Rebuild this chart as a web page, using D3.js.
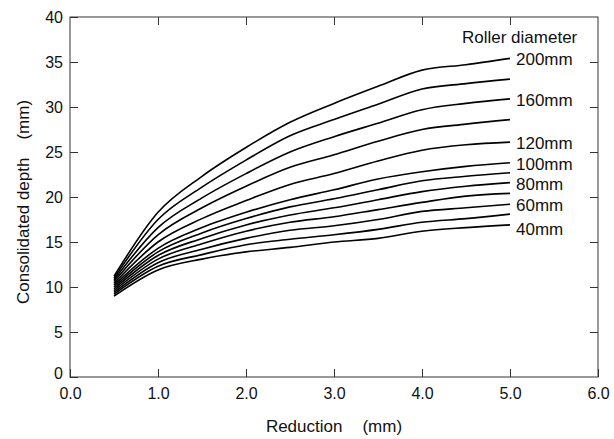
<!doctype html>
<html>
<head>
<script src="https://cdn.jsdelivr.net/npm/d3@7"></script>
<style>
  body { margin: 0; background: #fff; }
  text { font-family: "Liberation Sans", Arial, sans-serif; fill: #111; }
</style>
</head>
<body>
<script>
// reduction (mm)
var reduction = [0.5, 1.0, 1.5, 2.0, 2.5, 3.0, 3.5, 4.0, 4.5, 5.0];

// roller diameters, one curve each (top to bottom)
var diameters = [200, 180, 160, 140, 120, 100, 90, 80, 70, 60, 50, 40];

// consolidated depth (mm) for each diameter
var d200 = [11.2, 18.3, 22.3, 25.5, 28.3, 30.4, 32.3, 34.1, 34.7, 35.4];
var d180 = [11.0, 17.5, 21.1, 24.1, 26.8, 28.6, 30.3, 32.0, 32.6, 33.1];
var d160 = [10.8, 16.6, 19.9, 22.6, 25.0, 26.7, 28.2, 29.7, 30.4, 30.9];
var d140 = [10.6, 15.8, 18.8, 21.2, 23.3, 24.7, 26.2, 27.5, 28.1, 28.6];
var d120 = [10.4, 15.0, 17.6, 19.6, 21.4, 22.6, 24.0, 25.2, 25.8, 26.1];
var d100 = [10.2, 14.3, 16.6, 18.3, 19.7, 20.8, 22.0, 22.8, 23.4, 23.8];
var d90  = [10.0, 13.9, 16.0, 17.6, 18.9, 19.8, 20.8, 21.8, 22.3, 22.7];
var d80  = [9.8, 13.5, 15.4, 16.9, 18.0, 18.8, 19.7, 20.6, 21.2, 21.6];
var d70  = [9.6, 13.1, 14.8, 16.2, 17.2, 17.8, 18.6, 19.4, 20.1, 20.4];
var d60  = [9.4, 12.7, 14.2, 15.4, 16.3, 16.8, 17.5, 18.4, 18.8, 19.2];
var d50  = [9.2, 12.3, 13.6, 14.7, 15.3, 15.8, 16.4, 17.2, 17.6, 18.1];
var d40  = [9.0, 11.9, 13.1, 13.9, 14.4, 15.0, 15.4, 16.2, 16.6, 16.9];

var depths = [d200, d180, d160, d140, d120, d100, d90, d80, d70, d60, d50, d40];
var labelled = [200, 160, 120, 100, 80, 60, 40];

var xTicks = [0, 1, 2, 3, 4, 5, 6];
var yTicks = [0, 5, 10, 15, 20, 25, 30, 35, 40];

var width = 614, height = 439;
var pLeft = 70, pRight = 598, pTop = 17, pBottom = 377;

var x = d3.scaleLinear().domain([0, 6]).range([pLeft, pRight]);
var y = d3.scaleLinear().domain([0, 40]).range([pBottom, pTop]);

var svg = d3.select("body").append("svg")
    .attr("width", width)
    .attr("height", height);

// frame
svg.append("rect")
    .attr("x", pLeft).attr("y", pTop)
    .attr("width", pRight - pLeft).attr("height", pBottom - pTop)
    .attr("fill", "none").attr("stroke", "#333").attr("stroke-width", 1);

var tickLen = 8;

var xAxis = svg.append("g")
    .attr("transform", "translate(0," + pBottom + ")")
    .call(d3.axisBottom(x).tickValues(xTicks).tickFormat(d3.format(".1f"))
        .tickSizeInner(-tickLen).tickSizeOuter(0).tickPadding(11));
xAxis.select(".domain").remove();
xAxis.selectAll("text").attr("font-size", 16);

var xTop = svg.append("g")
    .attr("transform", "translate(0," + pTop + ")")
    .call(d3.axisTop(x).tickValues(xTicks.slice(1, 6)).tickSizeInner(-tickLen).tickSizeOuter(0).tickFormat(""));
xTop.select(".domain").remove();

var yAxis = svg.append("g")
    .attr("transform", "translate(" + pLeft + ",0)")
    .call(d3.axisLeft(y).tickValues(yTicks).tickSizeInner(-tickLen).tickSizeOuter(0).tickPadding(7));
yAxis.select(".domain").remove();
yAxis.selectAll("text").attr("font-size", 16);
yAxis.selectAll(".tick").filter(function(d) { return d === 0; }).select("text").attr("dy", "0.1em");

var yRight = svg.append("g")
    .attr("transform", "translate(" + pRight + ",0)")
    .call(d3.axisRight(y).tickValues(yTicks.slice(1, 8)).tickSizeInner(-tickLen).tickSizeOuter(0).tickFormat(""));
yRight.select(".domain").remove();

svg.selectAll(".tick line").attr("stroke", "#333");
svg.selectAll(".tick text").attr("fill", "#111");

// curves
var line = d3.line()
    .x(function(d, i) { return x(reduction[i]); })
    .y(function(d) { return y(d); })
    .curve(d3.curveMonotoneX);

svg.append("g").selectAll("path")
    .data(depths)
    .enter()
    .append("path")
    .attr("d", line)
    .attr("fill", "none")
    .attr("stroke", "#000")
    .attr("stroke-width", 1.6);

// curve labels
svg.append("g").selectAll("text")
    .data(diameters.map(function(dm, i) { return { dm: dm, v: depths[i][depths[i].length - 1] }; })
        .filter(function(d) { return labelled.indexOf(d.dm) >= 0; }))
    .enter()
    .append("text")
    .attr("x", x(5.0) + 6)
    .attr("y", function(d) { return y(d.v) + (d.dm === 40 ? 4 : 1); })
    .attr("dy", "0.35em")
    .attr("font-size", 17)
    .text(function(d) { return d.dm + "mm"; });

svg.append("text")
    .attr("x", x(5.0) - 48)
    .attr("y", 43)
    .attr("font-size", 17)
    .text("Roller diameter");

// axis titles
var xTitle = svg.append("text")
    .attr("x", (pLeft + pRight) / 2)
    .attr("y", 432)
    .attr("text-anchor", "middle")
    .attr("font-size", 17);
xTitle.append("tspan").text("Reduction");
xTitle.append("tspan").attr("dx", 20).text("(mm)");

var yTitle = svg.append("text")
    .attr("transform", "translate(29,202) rotate(-90)")
    .attr("text-anchor", "middle")
    .attr("font-size", 17);
yTitle.append("tspan").text("Consolidated depth");
yTitle.append("tspan").attr("dx", 18).text("(mm)");
</script>
</body>
</html>
